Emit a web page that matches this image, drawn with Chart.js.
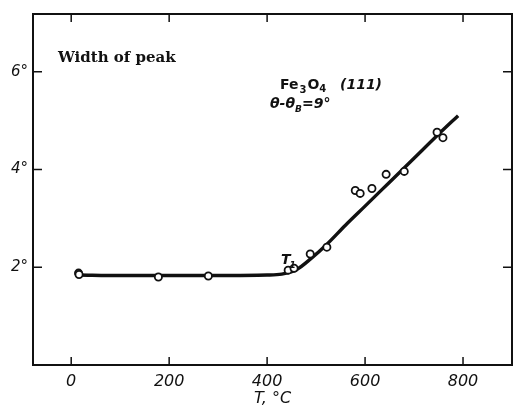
<!DOCTYPE html>
<html>
<head>
<meta charset="utf-8">
<script src="https://cdn.jsdelivr.net/npm/chart.js@4.4.1/dist/chart.umd.min.js"></script>
<style>
  html, body { margin: 0; padding: 0; background: #fff; }
  #wrap { width: 514px; height: 411px; }
</style>
</head>
<body>
<div id="wrap"><canvas id="peakChart" width="514" height="411"></canvas></div>
<script>
// measured points, T in degC and width of peak in degrees
var tempPts = [15, 16, 178, 280, 443, 455, 488, 522, 580, 590, 614, 643, 680, 747, 759];
var widthPts = [1.88, 1.85, 1.80, 1.82, 1.94, 1.98, 2.27, 2.41, 3.57, 3.51, 3.61, 3.90, 3.96, 4.76, 4.65];

// hand drawn curve through them
var curveT = [15, 100, 200, 300, 400, 430, 460, 490, 520, 560, 600, 650, 700, 750, 790];
var curveW = [1.84, 1.83, 1.83, 1.83, 1.84, 1.86, 1.95, 2.18, 2.45, 2.86, 3.25, 3.74, 4.23, 4.72, 5.1];

var xTicks = [0, 200, 400, 600, 800];
var yTicks = [2, 4, 6];

var ink = "#111";

var curveData = curveT.map(function (t, i) { return { x: t, y: curveW[i] }; });
var pointData = tempPts.map(function (t, i) { return { x: t, y: widthPts[i] }; });

// draws pieces of text one after another, [text, font, dy, gap]
function drawRuns(ctx, x, y, runs) {
    runs.forEach(function (r) {
        ctx.font = r[1];
        ctx.fillText(r[0], x, y + (r[2] || 0));
        x += ctx.measureText(r[0]).width + (r[3] || 0);
    });
}

// frame, inward ticks and the notes on the plot
var framePlugin = {
    id: "frame",
    afterDraw: function (chart) {
        var ctx = chart.ctx;
        var a = chart.chartArea;
        var xs = chart.scales.x;
        var ys = chart.scales.y;
        ctx.save();
        ctx.strokeStyle = ink;
        ctx.lineWidth = 2;
        ctx.strokeRect(a.left, a.top, a.right - a.left, a.bottom - a.top);

        ctx.lineWidth = 1.5;
        ctx.beginPath();
        xTicks.forEach(function (v) {
            var px = xs.getPixelForValue(v);
            ctx.moveTo(px, a.bottom); ctx.lineTo(px, a.bottom - 8);
            ctx.moveTo(px, a.top); ctx.lineTo(px, a.top + 8);
        });
        yTicks.forEach(function (v) {
            var py = ys.getPixelForValue(v);
            ctx.moveTo(a.left, py); ctx.lineTo(a.left + 9, py);
            ctx.moveTo(a.right, py); ctx.lineTo(a.right - 9, py);
        });
        ctx.stroke();

        ctx.fillStyle = ink;
        ctx.textBaseline = "alphabetic";
        ctx.font = "bold 15px 'DejaVu Serif'";
        ctx.fillText("Width of peak", 58, 62);

        var big = "bold 14px 'DejaVu Sans'";
        var small = "bold 10px 'DejaVu Sans'";
        var bigI = "italic bold 14px 'DejaVu Sans'";
        var smallI = "italic bold 9px 'DejaVu Sans'";

        // Fe3O4 (111)
        drawRuns(ctx, 280, 89, [["Fe", big, 0, 1], ["3", small, 4, 1], ["O", big, 0, 0], ["4", small, 3, 0]]);
        ctx.font = bigI;
        ctx.fillText("(111)", 340, 89);

        // theta - theta_B = 9 deg
        drawRuns(ctx, 270, 108, [["\u03B8-\u03B8", bigI, 0, 0], ["B", smallI, 4, 0], ["=9\u00B0", bigI, 0, 0]]);

        // T1 label
        drawRuns(ctx, 281, 264, [["T", bigI, 0, -1], ["1", smallI, 4, 0]]);
        ctx.restore();
    }
};

var ctx = document.getElementById("peakChart").getContext("2d");
var chart = new Chart(ctx, {
    type: "scatter",
    data: {
        datasets: [{
            label: "curve",
            data: curveData,
            showLine: true,
            borderColor: ink,
            borderWidth: 3.4,
            pointRadius: 0,
            cubicInterpolationMode: "monotone",
            order: 2
        }, {
            label: "points",
            data: pointData,
            showLine: false,
            pointRadius: 3.6,
            pointBorderWidth: 1.8,
            pointBorderColor: ink,
            pointBackgroundColor: "#fff",
            order: 1
        }]
    },
    options: {
        responsive: false,
        animation: false,
        layout: { autoPadding: false, padding: { left: 0, top: 13, right: 2, bottom: 0 } },
        plugins: {
            legend: { display: false },
            tooltip: { enabled: false }
        },
        scales: {
            x: {
                type: "linear",
                min: -78,
                max: 900,
                afterFit: function (s) { s.height = 46; },
                afterBuildTicks: function (s) { s.ticks = xTicks.map(function (v) { return { value: v }; }); },
                grid: { display: false, drawTicks: false },
                border: { display: false },
                ticks: {
                    color: ink,
                    padding: 7,
                    maxRotation: 0,
                    font: { family: "'DejaVu Sans'", style: "italic", size: 16 }
                },
                title: {
                    display: true,
                    text: "T, \u00B0C",
                    color: ink,
                    padding: { top: 0, bottom: 3 },
                    font: { family: "'DejaVu Sans'", style: "italic", size: 16 }
                }
            },
            y: {
                type: "linear",
                min: 0,
                max: 7.18,
                afterFit: function (s) { s.width = 33; },
                afterBuildTicks: function (s) { s.ticks = yTicks.map(function (v) { return { value: v }; }); },
                grid: { display: false, drawTicks: false },
                border: { display: false },
                ticks: {
                    color: ink,
                    padding: 5,
                    font: { family: "'DejaVu Sans'", style: "italic", size: 15 },
                    callback: function (v) { return v + "\u00B0"; }
                }
            }
        }
    },
    plugins: [framePlugin]
});
</script>
</body>
</html>
